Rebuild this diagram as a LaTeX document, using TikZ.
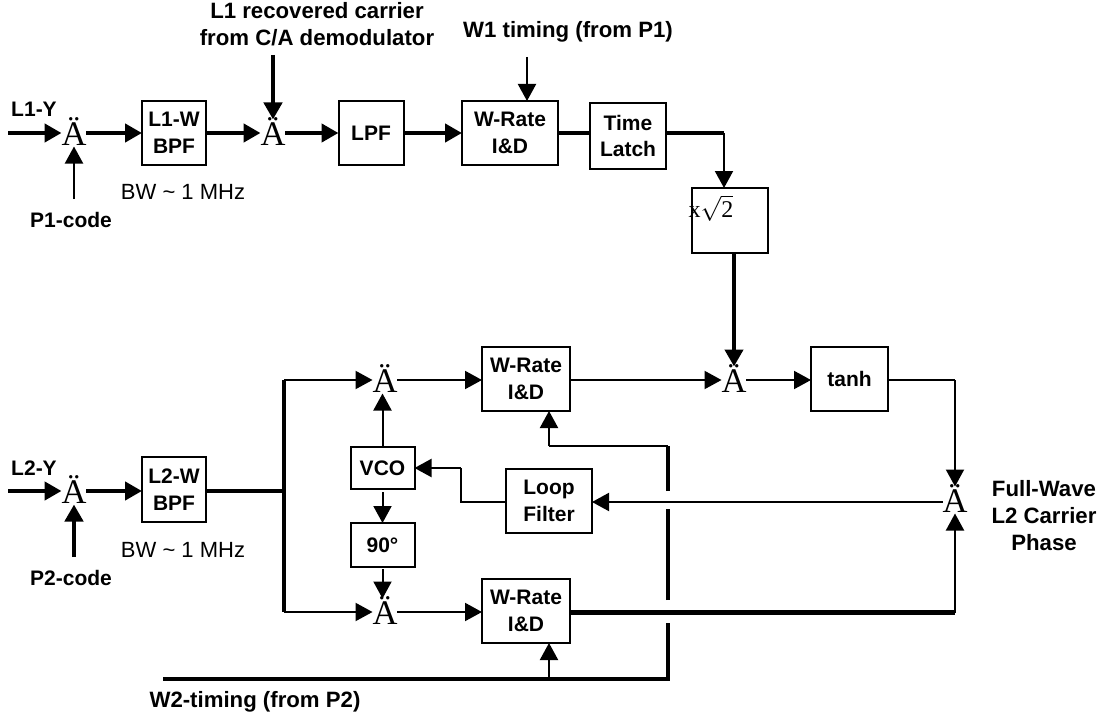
\documentclass[tikz,border=0pt]{standalone}
\usepackage{fontspec}
\setmainfont{Liberation Sans}
\newfontfamily\serifsym{Liberation Serif}
\usetikzlibrary{arrows.meta}

\newcommand{\mixsym}{\raisebox{-12pt}[0pt][0pt]{\fontsize{34.5}{34.5}\selectfont\serifsym Ä}}

\begin{document}
\begin{tikzpicture}[x=1pt,y=-1pt,>={Triangle[length=17pt,width=18pt]}]

\tikzset{
    block/.style={
        draw, line width=2pt, rectangle, inner sep=0pt, outer sep=0pt,
        minimum width=#1, align=center,
        font=\fontsize{21}{26.5}\selectfont\bfseries
    },
    mixer/.style={
        inner sep=0pt, outer sep=0pt,
        minimum width=24pt, minimum height=27pt
    },
    tag/.style={align=center, inner sep=0pt, font=\fontsize{21}{27}\selectfont\bfseries},
    bigtag/.style={align=center, inner sep=0pt, font=\fontsize{22.2}{27}\selectfont\bfseries},
    note/.style={inner sep=0pt, font=\fontsize{22}{26}\selectfont},
    fine/.style={line width=2pt},
    heavy/.style={line width=4.5pt}
}

\useasboundingbox (0,0) rectangle (1104,717);

% L1 branch
\node[mixer] (L1MixA) at (74,133) {\mixsym};
\node[block=64pt, minimum height=64pt] (L1Bpf) at (174,133) {L1-W\\BPF};
\node[mixer] (L1MixB) at (273,133) {\mixsym};
\node[block=65pt, minimum height=64pt] (L1Lpf) at (371,133) {LPF};
\node[block=96pt, minimum height=64pt] (L1Rate) at (510,133) {W-Rate\\I\&D};
\node[block=76pt, minimum height=66pt] (L1Latch) at (628,136) {Time\\Latch};
\node[block=76pt, minimum height=65pt] (RootBox) at (730,220.5) {};
\node[inner sep=0pt, font=\fontsize{24}{24}\selectfont\serifsym] (RootText) at (711,208) {x$\sqrt{\hbox{\serifsym 2}}$};

% L1 labels
\node[tag] (L1YTag) at (34,109) {L1-Y};
\node[tag] (P1Tag) at (71,220) {P1-code};
\node[note] (L1BwTag) at (183,192) {BW \textasciitilde{} 1 MHz};
\node[bigtag] (CarrierTag) at (317,24) {L1 recovered carrier\\from C/A demodulator};
\node[bigtag] (W1Tag) at (568,32) {W1 timing (from P1)};

\coordinate (L1Start) at (8,133);
\coordinate (P1Start) at (74,199);
\coordinate (CarrierStart) at (273,55);
\coordinate (W1Start) at (527,57);
\coordinate (LatchTurn) at (724,133);

\draw[->, heavy] (L1Start) -- (L1MixA.west);
\draw[->, fine] (P1Start) -- (L1MixA.south);
\draw[->, heavy] (L1MixA.east) -- (L1Bpf.west);
\draw[->, heavy] (L1Bpf.east) -- (L1MixB.west);
\draw[->, heavy] (CarrierStart) -- (L1MixB.north);
\draw[->, heavy] (L1MixB.east) -- (L1Lpf.west);
\draw[->, heavy] (L1Lpf.east) -- (L1Rate.west);
\draw[->, fine] (W1Start) -- (W1Start |- L1Rate.north);
\draw[heavy] (L1Rate.east) -- (L1Latch.west |- L1Rate.east);
\draw[heavy] (L1Latch.east |- LatchTurn) -- (LatchTurn);
\draw[->, fine] (LatchTurn) -- (LatchTurn |- RootBox.north);

% L2 branch
\node[mixer] (L2MixA) at (74,491) {\mixsym};
\node[block=64pt, minimum height=65pt] (L2Bpf) at (174,489.5) {L2-W\\BPF};
\node[mixer] (IMix) at (385,380) {\mixsym};
\node[mixer] (QMix) at (385,612) {\mixsym};
\node[block=88pt, minimum height=64pt] (IRate) at (526,379) {W-Rate\\I\&D};
\node[block=88pt, minimum height=64pt] (QRate) at (526,611) {W-Rate\\I\&D};
\node[block=64pt, minimum height=42pt] (Vco) at (382.5,468) {VCO};
\node[block=64pt, minimum height=44pt] (Shift) at (382.5,545) {90\textdegree};
\node[block=86pt, minimum height=64pt] (LoopF) at (549,501) {Loop\\Filter};
\node[mixer] (PhaseMix) at (734,380) {\mixsym};
\node[block=77pt, minimum height=64pt] (Tanh) at (849.5,379) {tanh};
\node[mixer] (OutMix) at (955,500) {\mixsym};

% L2 labels
\node[tag] (L2YTag) at (34,468) {L2-Y};
\node[tag] (P2Tag) at (71,578) {P2-code};
\node[note] (L2BwTag) at (183,550) {BW \textasciitilde{} 1 MHz};
\node[bigtag] (W2Tag) at (255,702) {W2-timing (from P2)};
\node[bigtag] (OutTag) at (1044,516) {Full-Wave\\L2 Carrier\\Phase};

\coordinate (L2Start) at (8,491);
\coordinate (P2Start) at (74,557);
\coordinate (BranchMid) at (284,491);
\coordinate (BranchTop) at (284,380);
\coordinate (BranchBot) at (284,612);
\coordinate (LoopBendA) at (461,502);
\coordinate (LoopBendB) at (461,468);
\coordinate (W2Start) at (163,679);
\coordinate (W2Corner) at (668,679);
\coordinate (W2Tap) at (549,679);
\coordinate (W2Top) at (668,446);
\coordinate (W2TopTap) at (549,446);
\coordinate (QTurn) at (955,612.5);
\coordinate (TanhTurn) at (955,380);

\draw[->, heavy] (L2Start) -- (L2MixA.west);
\draw[->, heavy] (P2Start) -- (L2MixA.south);
\draw[->, heavy] (L2MixA.east) -- (L2Bpf.west |- L2MixA.east);
\draw[heavy] (L2Bpf.east |- BranchMid) -- (BranchMid);
\draw[heavy] (BranchTop) -- (BranchBot);
\draw[->, fine] (BranchTop) -- (IMix.west);
\draw[->, fine] (BranchBot) -- (QMix.west);
\draw[->, fine] (IMix.east) -- (IRate.west |- IMix.east);
\draw[->, fine] (QMix.east) -- (QRate.west |- QMix.east);

% Loop
\draw[->, fine] (Vco.north) -- (Vco.north |- IMix.south);
\draw[->, fine] ([yshift=-3pt]Vco.south) -- (Shift.north);
\draw[->, fine] ([yshift=-2pt]Shift.south) -- (Shift.south |- QMix.north);
\draw[fine] (LoopF.west |- LoopBendA) -- (LoopBendA) -- (LoopBendB);
\draw[->, fine] (LoopBendB) -- (Vco.east);
\draw[->, fine] (OutMix.west |- LoopBendA) -- (LoopF.east |- LoopBendA);

% Outputs
\draw[->, fine] (IRate.east |- IMix.east) -- (PhaseMix.west);
\draw[->, heavy] (RootBox.south -| PhaseMix) -- (PhaseMix.north);
\draw[->, fine] (PhaseMix.east) -- (Tanh.west |- PhaseMix.east);
\draw[fine] (Tanh.east |- TanhTurn) -- (TanhTurn);
\draw[->, fine] (TanhTurn) -- (OutMix.north);
\draw[heavy] (QRate.east |- QTurn) -- (QTurn);
\draw[->, fine] (QTurn) -- (OutMix.south);

% W2 timing bus, broken where it crosses
\coordinate (GapA) at (668,623);
\coordinate (GapB) at (668,600);
\coordinate (GapC) at (668,509);
\coordinate (GapD) at (668,491);
\draw[heavy] (W2Start) -- (W2Corner) -- (GapA);
\draw[heavy] (GapB) -- (GapC);
\draw[heavy] (GapD) -- (W2Top);
\draw[fine] (W2Top) -- (W2TopTap);
\draw[->, fine] (W2TopTap) -- (W2TopTap |- IRate.south);
\draw[->, fine] (W2Tap) -- (W2Tap |- QRate.south);

\end{tikzpicture}
\end{document}
